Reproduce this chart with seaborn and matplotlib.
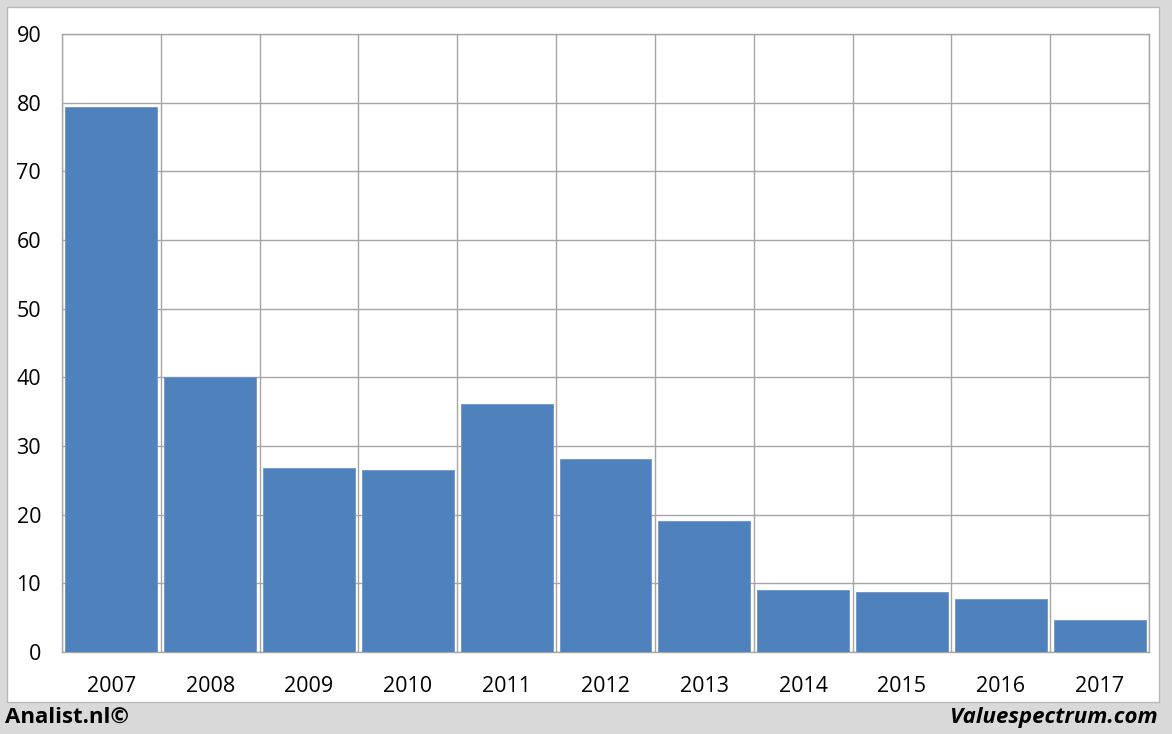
import numpy as np
import pandas as pd
import matplotlib
matplotlib.use("Agg")
import matplotlib.pyplot as plt
import seaborn as sns
from matplotlib.patches import Rectangle

years = ["2007", "2008", "2009", "2010", "2011", "2012",
         "2013", "2014", "2015", "2016", "2017"]
values = [79.4, 40.0, 26.8, 26.5, 36.1, 28.1, 19.1, 9.0, 8.7, 7.7, 4.7]
y_ticks = [0, 10, 20, 30, 40, 50, 60, 70, 80, 90]

df = pd.DataFrame({"year": years, "value": values})

sns.set_style("white")
plt.rcParams["font.family"] = ["Open Sans", "DejaVu Sans"]

W, H = 1172, 734
fig = plt.figure(figsize=(W / 100, H / 100), dpi=100)
fig.patch.set_facecolor("#d9d9d9")

# white panel behind the chart
fig.patches.append(Rectangle((7 / W, 1 - 702 / H), (1159 - 7) / W, (702 - 7) / H,
                             transform=fig.transFigure, facecolor="white",
                             edgecolor="#b8b8b8", linewidth=1, zorder=-10))

ax = fig.add_axes([62 / W, 1 - 652 / H, (1149 - 62) / W, (652 - 34) / H])
ax.set_facecolor("white")

sns.barplot(data=df, x="year", y="value", color="#4f81bd", saturation=1,
            width=0.93, edgecolor="#6d95c8", linewidth=0.6, ax=ax, zorder=3)

ax.set_xlim(-0.5, len(years) - 0.5)
ax.set_ylim(0, 90)
ax.set_yticks(y_ticks)
ax.set_xlabel("")
ax.set_ylabel("")

# vertical grid at category boundaries
ax.set_xticks(np.arange(-0.5, len(years), 1.0), minor=True)
ax.grid(axis="x", which="minor", color="#a6a6a6", linewidth=1, zorder=0)
ax.grid(axis="y", which="major", color="#a6a6a6", linewidth=1, zorder=0)
ax.grid(axis="x", which="major", visible=False)
ax.set_axisbelow(True)

ax.tick_params(axis="x", which="major", length=0, labelsize=15.5, pad=17, colors="black")
ax.tick_params(axis="x", which="minor", length=7, color="#a6a6a6", direction="out")
ax.tick_params(axis="y", length=7, color="#a6a6a6", labelsize=15.5, pad=8, labelcolor="black")

for s in ax.spines.values():
    s.set_color("#a6a6a6")
    s.set_linewidth(1)

fig.text(5 / W, 1 - 717 / H, "Analist.nl©", fontsize=16, fontweight="bold",
         ha="left", va="center", color="black")
fig.text(1158 / W, 1 - 717 / H, "Valuespectrum.com", fontsize=16, fontweight="bold",
         fontstyle="italic", ha="right", va="center", color="black")

fig.savefig("out.png", dpi=100, facecolor=fig.get_facecolor())
